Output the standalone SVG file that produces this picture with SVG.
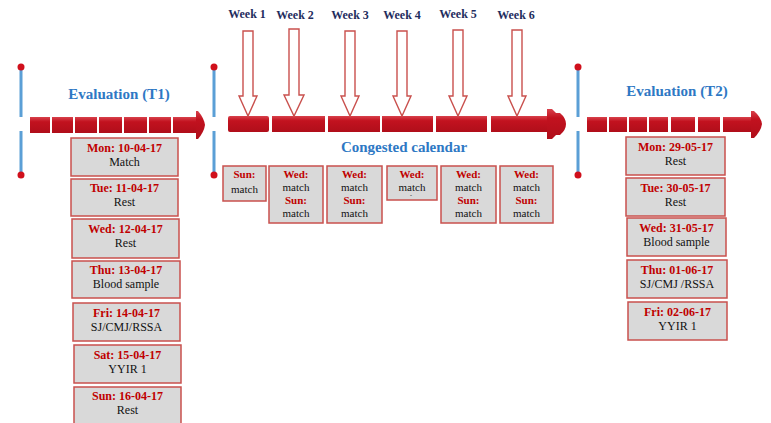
<svg xmlns="http://www.w3.org/2000/svg" width="771" height="423" viewBox="0 0 771 423">
<defs>
<linearGradient id="rg" x1="0" y1="0" x2="0" y2="1">
<stop offset="0" stop-color="#d8414b"/>
<stop offset="0.3" stop-color="#c2121f"/>
<stop offset="1" stop-color="#b00e1a"/>
</linearGradient>
</defs>
<style>
.vline{stroke:#5b9fd6;stroke-width:3;fill:none}
.dot{fill:#d0101c}
.seg{fill:url(#rg)}
.head{fill:url(#rg)}
.box{fill:#d9d9d9;stroke:#c9504d;stroke-width:1.5}
text{font-family:"Liberation Serif","DejaVu Serif","Noto Serif",serif}
.hd{font-weight:bold;font-size:12px;fill:#c00000;text-anchor:middle}
.bd{font-size:12px;fill:#111111;text-anchor:middle}
.hs{font-weight:bold;font-size:11px;fill:#c00000;text-anchor:middle}
.bs{font-size:11px;fill:#111111;text-anchor:middle}
.ttl{font-weight:bold;font-size:15px;fill:#2e78c4;text-anchor:middle}
.wk{font-weight:bold;font-size:12px;fill:#1f2d5e;text-anchor:middle}
.darr{fill:#ffffff;stroke:#c9504d;stroke-width:1.4}
</style>
<rect x="0" y="0" width="771" height="423" fill="#ffffff"/>

<g id="timeline">
<path class="vline" d="M21 67 V117 M21 131 V175 M214 67 V117 M214 131 V175 M578 67 V117 M578 131 V175"/>
<circle class="dot" cx="21" cy="67" r="3.5"/>
<circle class="dot" cx="21" cy="175" r="3.5"/>
<circle class="dot" cx="214" cy="67" r="3.5"/>
<circle class="dot" cx="214" cy="175" r="3.5"/>
<circle class="dot" cx="578" cy="67" r="3.5"/>
<circle class="dot" cx="578" cy="175" r="3.5"/>
<!-- arrow 1 -->
<rect class="seg" x="30" y="117" width="20" height="16"/>
<rect class="seg" x="52" y="117" width="21" height="16"/>
<rect class="seg" x="75" y="117" width="22" height="16"/>
<rect class="seg" x="99" y="117" width="23" height="16"/>
<rect class="seg" x="124" y="117" width="23" height="16"/>
<rect class="seg" x="149" y="117" width="22" height="16"/>
<rect class="seg" x="173" y="117" width="24" height="16"/>
<path class="head" d="M196 111 L198 111 Q204 118 205 125 Q204 132 198 139 L196 139 Z"/>
<!-- arrow 2 -->
<rect class="seg" x="228" y="116" width="41" height="16" rx="2"/>
<rect class="seg" x="272" y="116" width="53" height="16"/>
<rect class="seg" x="328" y="116" width="52" height="16"/>
<rect class="seg" x="382" y="116" width="51" height="16"/>
<rect class="seg" x="436" y="116" width="51" height="16"/>
<rect class="seg" x="491" y="116" width="57" height="16"/>
<path class="head" d="M547 109 L552 109 L556 113 L560 113 Q566 118 566 124 Q566 130 560 135 L556 135 L552 139 L547 139 Z"/>
<!-- arrow 3 -->
<rect class="seg" x="587" y="117" width="20" height="15"/>
<rect class="seg" x="609" y="117" width="18" height="15"/>
<rect class="seg" x="629" y="117" width="18" height="15"/>
<rect class="seg" x="649" y="117" width="19" height="15"/>
<rect class="seg" x="671" y="117" width="24" height="15"/>
<rect class="seg" x="698" y="117" width="22" height="15"/>
<rect class="seg" x="723" y="117" width="29" height="15"/>
<path class="head" d="M751 111 L754 111 Q761 117 762 124 Q761 131 754 138 L751 138 Z"/>
<text class="ttl" x="119" y="99">Evaluation (T1)</text>
<text class="ttl" x="404" y="152">Congested calendar</text>
<text class="ttl" x="677" y="96">Evaluation (T2)</text>
</g>

<g id="weeks">
<text class="wk" x="247" y="18">Week 1</text>
<text class="wk" x="295" y="19">Week 2</text>
<text class="wk" x="350" y="19">Week 3</text>
<text class="wk" x="402" y="19">Week 4</text>
<text class="wk" x="458" y="18">Week 5</text>
<text class="wk" x="516" y="19">Week 6</text>
</g>

<g id="connectors">
<path class="darr" d="M243 31 H253 V96 H257 L248 116 L239 96 H243 Z"/>
<path class="darr" d="M289 29 H299 V95 H304 L294 116 L284 95 H289 Z"/>
<path class="darr" d="M345 31 H355 V96 H359 L350 116 L341 96 H345 Z"/>
<path class="darr" d="M397 31 H407 V96 H411 L402 116 L393 96 H397 Z"/>
<path class="darr" d="M453 30 H463 V96 H467 L458 116 L449 96 H453 Z"/>
<path class="darr" d="M512 30 H522 V96 H526 L517 116 L508 96 H512 Z"/>
</g>

<g id="t1-mon"><rect class="box" x="71" y="138" width="107" height="38"/><text class="hd" x="124.5" y="152">Mon: 10-04-17</text><text class="bd" x="124.5" y="166">Match</text></g>
<g id="t1-tue"><rect class="box" x="71" y="179" width="107" height="37"/><text class="hd" x="124.5" y="192">Tue: 11-04-17</text><text class="bd" x="124.5" y="206">Rest</text></g>
<g id="t1-wed"><rect class="box" x="72" y="219" width="107" height="39"/><text class="hd" x="125.5" y="233">Wed: 12-04-17</text><text class="bd" x="125.5" y="247">Rest</text></g>
<g id="t1-thu"><rect class="box" x="72" y="261" width="108" height="37"/><text class="hd" x="126" y="274">Thu: 13-04-17</text><text class="bd" x="126" y="288">Blood sample</text></g>
<g id="t1-fri"><rect class="box" x="73" y="303" width="107" height="38"/><text class="hd" x="126.5" y="317">Fri: 14-04-17</text><text class="bd" x="126.5" y="331">SJ/CMJ/RSSA</text></g>
<g id="t1-sat"><rect class="box" x="74" y="345" width="107" height="38"/><text class="hd" x="127.5" y="359">Sat: 15-04-17</text><text class="bd" x="127.5" y="373">YYIR 1</text></g>
<g id="t1-sun"><rect class="box" x="74" y="387" width="107" height="38"/><text class="hd" x="127.5" y="400">Sun: 16-04-17</text><text class="bd" x="127.5" y="414">Rest</text></g>

<g id="wk1"><rect class="box" x="223" y="166" width="43" height="35"/><text class="hs" x="244.5" y="178">Sun:</text><text class="bs" x="244.5" y="193">match</text></g>
<g id="wk2"><rect class="box" x="269" y="166" width="54" height="57"/><text class="hs" x="296" y="178">Wed:</text><text class="bs" x="296" y="191">match</text><text class="hs" x="296" y="204">Sun:</text><text class="bs" x="296" y="217">match</text></g>
<g id="wk3"><rect class="box" x="327" y="166" width="55" height="57"/><text class="hs" x="354.5" y="178">Wed:</text><text class="bs" x="354.5" y="191">match</text><text class="hs" x="354.5" y="204">Sun:</text><text class="bs" x="354.5" y="217">match</text></g>
<g id="wk4"><rect class="box" x="387" y="166" width="50" height="34"/><text class="hs" x="412" y="178">Wed:</text><text class="bs" x="412" y="191">match</text><text class="bs" x="411" y="197" style="font-size:6px">-</text></g>
<g id="wk5"><rect class="box" x="441" y="166" width="55" height="57"/><text class="hs" x="468.5" y="178">Wed:</text><text class="bs" x="468.5" y="191">match</text><text class="hs" x="468.5" y="204">Sun:</text><text class="bs" x="468.5" y="217">match</text></g>
<g id="wk6"><rect class="box" x="500" y="166" width="53" height="57"/><text class="hs" x="526.5" y="178">Wed:</text><text class="bs" x="526.5" y="191">match</text><text class="hs" x="526.5" y="204">Sun:</text><text class="bs" x="526.5" y="217">match</text></g>

<g id="t2-mon"><rect class="box" x="626" y="137" width="99" height="38"/><text class="hd" x="675.5" y="151">Mon: 29-05-17</text><text class="bd" x="675.5" y="165">Rest</text></g>
<g id="t2-tue"><rect class="box" x="626" y="178" width="99" height="38"/><text class="hd" x="675.5" y="192">Tue: 30-05-17</text><text class="bd" x="675.5" y="206">Rest</text></g>
<g id="t2-wed"><rect class="box" x="627" y="218" width="99" height="38"/><text class="hd" x="676.5" y="232">Wed: 31-05-17</text><text class="bd" x="676.5" y="246">Blood sample</text></g>
<g id="t2-thu"><rect class="box" x="627" y="260" width="100" height="38"/><text class="hd" x="677" y="274">Thu: 01-06-17</text><text class="bd" x="677" y="288">SJ/CMJ /RSSA</text></g>
<g id="t2-fri"><rect class="box" x="628" y="302" width="99" height="38"/><text class="hd" x="677.5" y="316">Fri: 02-06-17</text><text class="bd" x="677.5" y="330">YYIR 1</text></g>
</svg>
